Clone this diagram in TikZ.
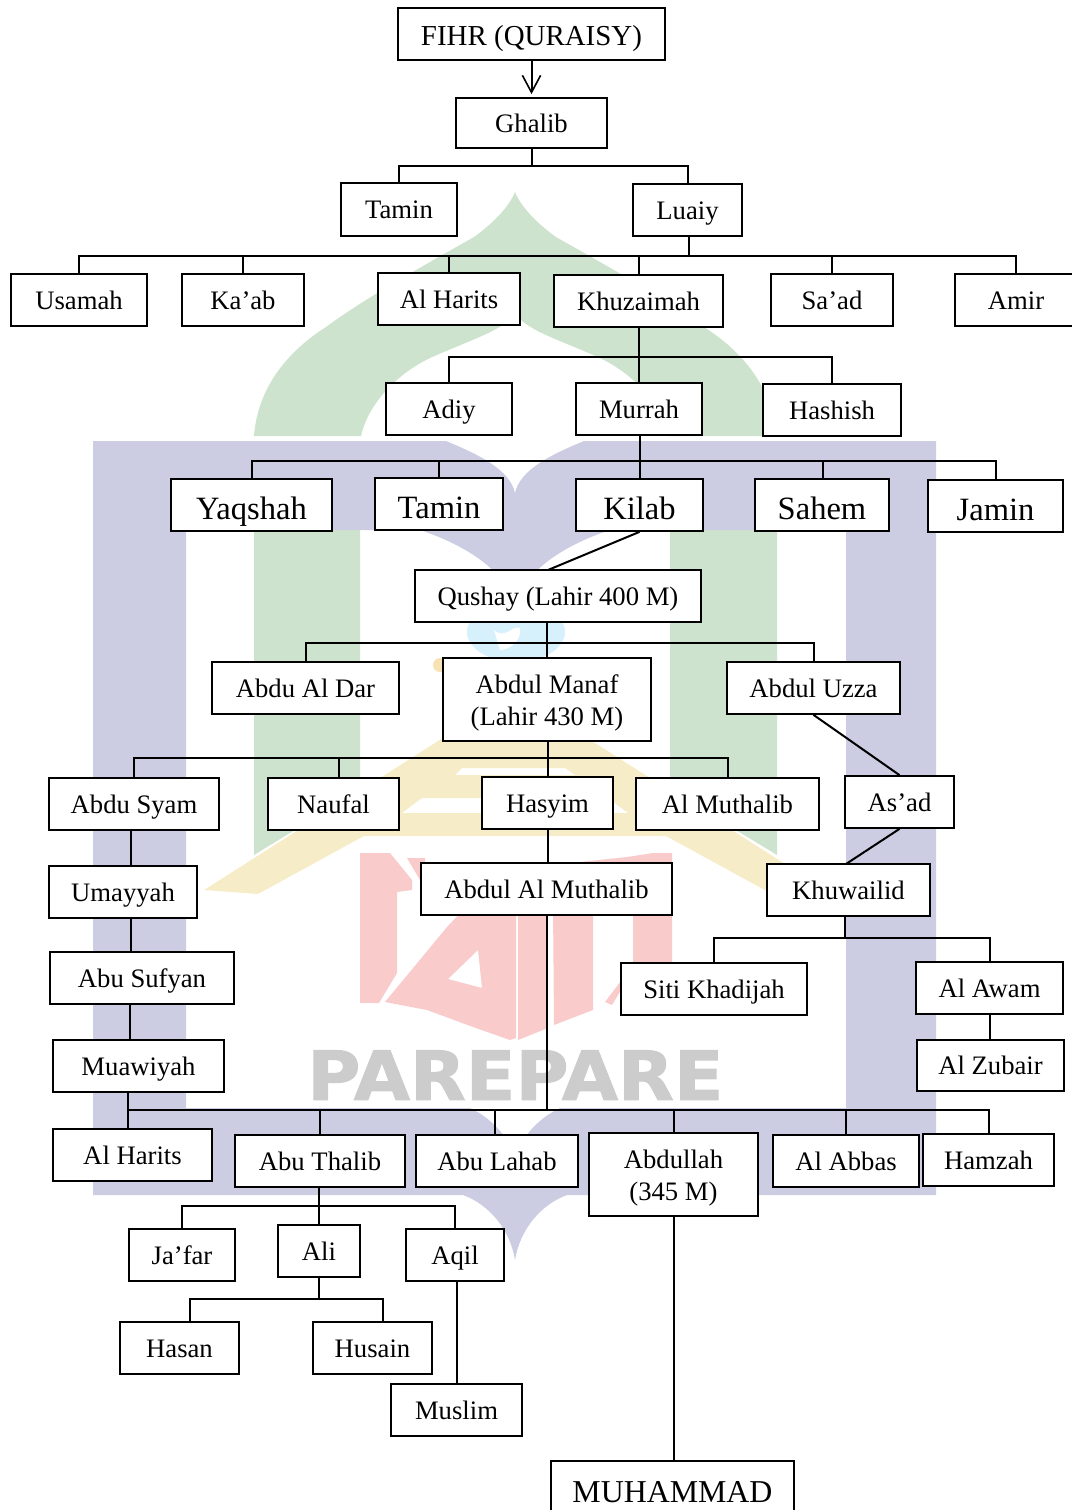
\documentclass[tikz,border=0pt]{standalone}
\usepackage{fontspec}
\setmainfont{Liberation Serif}
\newfontfamily\wmfont[FakeBold=1.5]{DejaVu Sans Bold}
\usetikzlibrary{arrows.meta}
\definecolor{wmblue}{HTML}{CCCDE3}
\definecolor{wmgreen}{HTML}{CDE3CD}
\definecolor{wmyellow}{HTML}{F6EDC8}
\definecolor{wmred}{HTML}{F9CBCB}
\definecolor{wmgray}{HTML}{CCCCCC}
\definecolor{wmcyan}{HTML}{D6F1FB}
\tikzset{
  box/.style={draw=black,fill=white,line width=1.3pt,inner sep=0pt,align=center,font=\fontsize{20}{24}\selectfont},
  one/.style={text height=17.5pt,text depth=4pt},
  big/.style={font=\fontsize{24.4}{28}\selectfont,text height=24pt,text depth=3pt},
  top/.style={font=\fontsize{21.7}{26}\selectfont,text height=19.5pt,text depth=3pt},
  link/.style={draw=black,line width=1.5pt},
}
\newcommand{\bx}[7][one]{%
  \pgfmathsetlengthmacro\bxw{(#5-#3)*0.75}%
  \pgfmathsetlengthmacro\bxh{(#6-#4)*0.75}%
  \node[box,#1,minimum width=\bxw,minimum height=\bxh] (#2) at ({(#3+#5)/2},{(#4+#6)/2}) {#7};}
\begin{document}
\begin{tikzpicture}[x=0.75pt,y=-0.75pt]
\useasboundingbox (0,0) rectangle (1071,1510);
% ---- watermark
\fill[wmcyan] (516,632) ellipse [x radius=49,y radius=30];
\fill[white] (494,630) .. controls (505,640) and (512,625) .. (520,628) .. controls (522,640) and (510,650) .. (500,650) -- cycle;
\fill[wmyellow!90!orange] (440,665) circle [radius=7];
% green dome
\fill[wmgreen] (254,436) .. controls (258,385) and (290,350) .. (326,327) .. controls (365,298) and (430,262) .. (474,237) .. controls (495,222) and (510,205) .. (515,192)
  .. controls (520,205) and (535,222) .. (556,237) .. controls (600,262) and (665,298) .. (704,327) .. controls (740,350) and (772,385) .. (777,436)
  -- (669,436) .. controls (662,405) and (635,375) .. (600,358) .. controls (560,340) and (525,330) .. (515,313)
  .. controls (505,330) and (470,340) .. (430,358) .. controls (395,375) and (368,405) .. (361,436) -- cycle;
% green columns
\fill[wmgreen] (254,530) -- (360,530) -- (360,790) -- (254,855) -- cycle;
\fill[wmgreen] (670,530) -- (777,530) -- (777,855) -- (670,790) -- cycle;
% yellow roof
\fill[wmyellow,even odd rule] (204,890) -- (515,692) -- (826,890) -- (772,894) -- (666,836) -- (364,836) -- (258,894) -- cycle
  (402,813) -- (628,813) -- (608,798) -- (422,798) -- cycle
  (455,775) -- (575,775) -- (565,768) -- (462,768) -- cycle;
% blue frame
\fill[wmblue,even odd rule] (93,441) -- (446,441) .. controls (480,455) and (510,470) .. (515,493) .. controls (520,470) and (550,455) .. (584,441)
  -- (936,441) -- (936,1195) -- (567,1195) .. controls (540,1205) and (520,1230) .. (515,1260) .. controls (510,1230) and (490,1205) .. (463,1195) -- (93,1195) -- cycle
  (186,530) -- (420,530) .. controls (465,545) and (505,570) .. (515,605) .. controls (525,570) and (565,545) .. (610,530) -- (846,530) -- (846,1108)
  -- (560,1108) .. controls (535,1120) and (520,1140) .. (515,1160) .. controls (510,1140) and (495,1120) .. (470,1108) -- (186,1108) -- cycle;
% red logo
\fill[wmred] (360,853) -- (390,853) -- (412,880) -- (412,890) -- (397,892) -- (397,973) -- (379,1003) -- (360,1003) -- cycle;
\fill[wmred] (407,858) -- (425,858) -- (425,885) -- (420,880) -- cycle;
\fill[wmred,even odd rule] (385,1002) -- (447,927) -- (468,905) -- (516,905) -- (516,1038) -- (510,1040) -- (473,1027) -- (427,1010) -- cycle
  (478,950) -- (448,979) -- (482,988) -- cycle;
\fill[wmred] (518,905) -- (547,905) -- (548,1028) -- (518,1040) -- cycle;
\fill[wmred] (553,905) -- (593,905) -- (593,1010) -- (554,1025) -- cycle;
\fill[wmred] (580,862) -- (627,857) -- (653,853) -- (672,853) -- (672,965) -- (621,990) -- (612,1005) -- (605,1002) -- (633,965) -- (633,870) -- (580,870) -- cycle;
% PAREPARE
\node[inner sep=0pt,text=wmgray,anchor=south west] (wm) at (307,1100) {\resizebox{312pt}{37pt}{\wmfont PAREPARE}};
% ---- boxes
\bx[top]{fihr}{398}{8}{665}{60}{FIHR (QURAISY)}
\bx{ghalib}{456}{98}{607}{148}{Ghalib}
\bx{tamina}{341}{183}{457}{236}{Tamin}
\bx{luaiy}{633}{184}{742}{236}{Luaiy}
\bx{usamah}{11}{274}{147}{326}{Usamah}
\bx{kaab}{182}{274}{304}{326}{Ka’ab}
\bx{hariz}{378}{273}{520}{325}{Al Harits}
\bx{khuz}{554}{275}{723}{327}{Khuzaimah}
\bx{saad}{771}{274}{893}{326}{Sa’ad}
\bx{amir}{955}{274}{1077}{326}{Amir}
\bx{adiy}{386}{383}{512}{435}{Adiy}
\bx{murrah}{576}{383}{702}{435}{Murrah}
\bx{hashish}{763}{384}{901}{436}{Hashish}
\bx[big]{yaq}{171}{479}{332}{531}{Yaqshah}
\bx[big]{taminb}{375}{478}{503}{530}{Tamin}
\bx[big]{kilab}{576}{479}{703}{531}{Kilab}
\bx[big]{sahem}{755}{479}{889}{531}{Sahem}
\bx[big]{jamin}{928}{480}{1063}{532}{Jamin}
\bx{qushay}{415}{570}{701}{622}{Qushay (Lahir 400 M)}
\bx{dar}{212}{662}{399}{714}{Abdu Al Dar}
\bx[]{manaf}{443}{658}{651}{741}{\rule{0pt}{19pt}Abdul Manaf\\(Lahir 430 M)}
\bx{uzza}{727}{662}{900}{714}{Abdul Uzza}
\bx{syam}{49}{778}{219}{830}{Abdu Syam}
\bx{naufal}{268}{778}{399}{830}{Naufal}
\bx{hasyim}{482}{777}{613}{829}{Hasyim}
\bx{muthalib}{636}{778}{819}{830}{Al Muthalib}
\bx{asad}{845}{776}{954}{828}{As’ad}
\bx{umayyah}{49}{866}{197}{918}{Umayyah}
\bx{amuth}{421}{863}{672}{915}{Abdul Al Muthalib}
\bx{khuw}{767}{864}{930}{916}{Khuwailid}
\bx{sufyan}{50}{952}{234}{1004}{Abu Sufyan}
\bx{siti}{621}{963}{807}{1015}{Siti Khadijah}
\bx{awam}{916}{962}{1063}{1014}{Al Awam}
\bx{muaw}{53}{1040}{224}{1092}{Muawiyah}
\bx{zubair}{917}{1040}{1064}{1091}{Al Zubair}
\bx{harizb}{53}{1129}{212}{1181}{Al Harits}
\bx{thalib}{235}{1135}{405}{1187}{Abu Thalib}
\bx{lahab}{416}{1135}{578}{1187}{Abu Lahab}
\bx[]{abdullah}{589}{1133}{758}{1216}{\rule{0pt}{19.5pt}Abdullah\\(345 M)}
\bx{abbas}{773}{1135}{919}{1187}{Al Abbas}
\bx{hamzah}{923}{1134}{1054}{1186}{Hamzah}
\bx{jafar}{129}{1229}{235}{1281}{Ja’far}
\bx{ali}{278}{1225}{360}{1277}{Ali}
\bx{aqil}{406}{1229}{504}{1281}{Aqil}
\bx{hasan}{120}{1322}{239}{1374}{Hasan}
\bx{husain}{313}{1322}{432}{1374}{Husain}
\bx{muslim}{391}{1384}{522}{1436}{Muslim}
\bx[big,font=\fontsize{23.9}{28}\selectfont]{muhammad}{551}{1461}{794}{1515}{MUHAMMAD}
% ---- named helper points
\coordinate (busa) at (532,166);
\coordinate (busb) at (689,256);
\coordinate (busc) at (639,357);
\coordinate (busd) at (640,461);
\coordinate (buse) at (547,643);
\coordinate (busf) at (548,758);
\coordinate (busg) at (845,938);
\coordinate (bush) at (547,1110);
\coordinate (busi) at (320,1206);
\coordinate (busj) at (320,1299);
\coordinate (xsyam) at (131,800);
\coordinate (xsuf) at (130,1000);
\coordinate (xmuaw) at (128,1100);
\coordinate (xnauf) at (339,758);
\coordinate (xlahab) at (495,1110);
\coordinate (xhasan) at (190,1299);
\coordinate (xhusain) at (383,1299);
\coordinate (xsahem) at (823,461);
\coordinate (xaqil) at (457,1300);
\coordinate (qtop) at (548,570);
\coordinate (ktop) at (846,864);
% ---- connectors
\draw[link,-{Straight Barb[length=4.5mm,width=4.8mm,line width=1.2pt]},shorten >=2.25pt] (fihr.south -| ghalib.north) -- (ghalib.north);
\draw[link] (busa |- ghalib.south) -- (busa);
\draw[link] (tamina.north) |- (busa) -| (luaiy.north);
\draw[link] (busb |- luaiy.south) -- (busb);
\draw[link] (usamah.north) |- (busb) -| (amir.north);
\draw[link] (kaab.north) -- (kaab.north |- busb);
\draw[link] (hariz.north) -- (hariz.north |- busb);
\draw[link] (khuz.north) -- (khuz.north |- busb);
\draw[link] (saad.north) -- (saad.north |- busb);
\draw[link] (khuz.south) -- (khuz.south |- murrah.north);
\draw[link] (adiy.north) |- (busc) -| (hashish.north);
\draw[link] (murrah.south -| kilab.north) -- (kilab.north);
\draw[link] (yaq.north) |- (busd) -| (jamin.north);
\draw[link] (taminb.north) -- (taminb.north |- busd);
\draw[link] (xsahem |- sahem.north) -- (xsahem);
\draw[link] (kilab.south) -- (qtop);
\draw[link] (buse |- qushay.south) -- (buse |- manaf.north);
\draw[link] (dar.north) |- (buse) -| (uzza.north);
\draw[link] (busf |- manaf.south) -- (busf |- hasyim.north);
\draw[link] (syam.north) |- (busf) -| (muthalib.north);
\draw[link] (xnauf) -- (xnauf |- naufal.north);
\draw[link] (uzza.south) -- (asad.north);
\draw[link] (asad.south) -- (ktop);
\draw[link] (hasyim.south) -- (hasyim.south |- amuth.north);
\draw[link] (busg |- khuw.south) -- (busg);
\draw[link] (siti.north) |- (busg) -| (awam.north);
\draw[link] (zubair.north -| awam.south) -- (awam.south);
\draw[link] (xsyam |- syam.south) -- (xsyam |- umayyah.north);
\draw[link] (xsyam |- umayyah.south) -- (xsyam |- sufyan.north);
\draw[link] (xsuf |- sufyan.south) -- (xsuf |- muaw.north);
\draw[link] (xmuaw |- muaw.south) -- (xmuaw |- harizb.north);
\draw[link] (bush |- amuth.south) -- (bush);
\draw[link] (xmuaw |- bush) -- (bush) -| (hamzah.north);
\draw[link] (thalib.north) -- (thalib.north |- bush);
\draw[link] (xlahab) -- (xlahab |- lahab.north);
\draw[link] (abdullah.north) -- (abdullah.north |- bush);
\draw[link] (abbas.north) -- (abbas.north |- bush);
\draw[link] (thalib.south) -- (thalib.south -| ali.north) -- (ali.north);
\draw[link] (jafar.north) |- (busi) -| (aqil.north);
\draw[link] (ali.south) -- (ali.south |- busj);
\draw[link] (xhasan |- hasan.north) -- (xhasan) -- (xhusain) -- (xhusain |- husain.north);
\draw[link] (xaqil |- aqil.south) -- (xaqil |- muslim.north);
\draw[link] (abdullah.south) -- (abdullah.south |- muhammad.north);
\end{tikzpicture}
\end{document}
